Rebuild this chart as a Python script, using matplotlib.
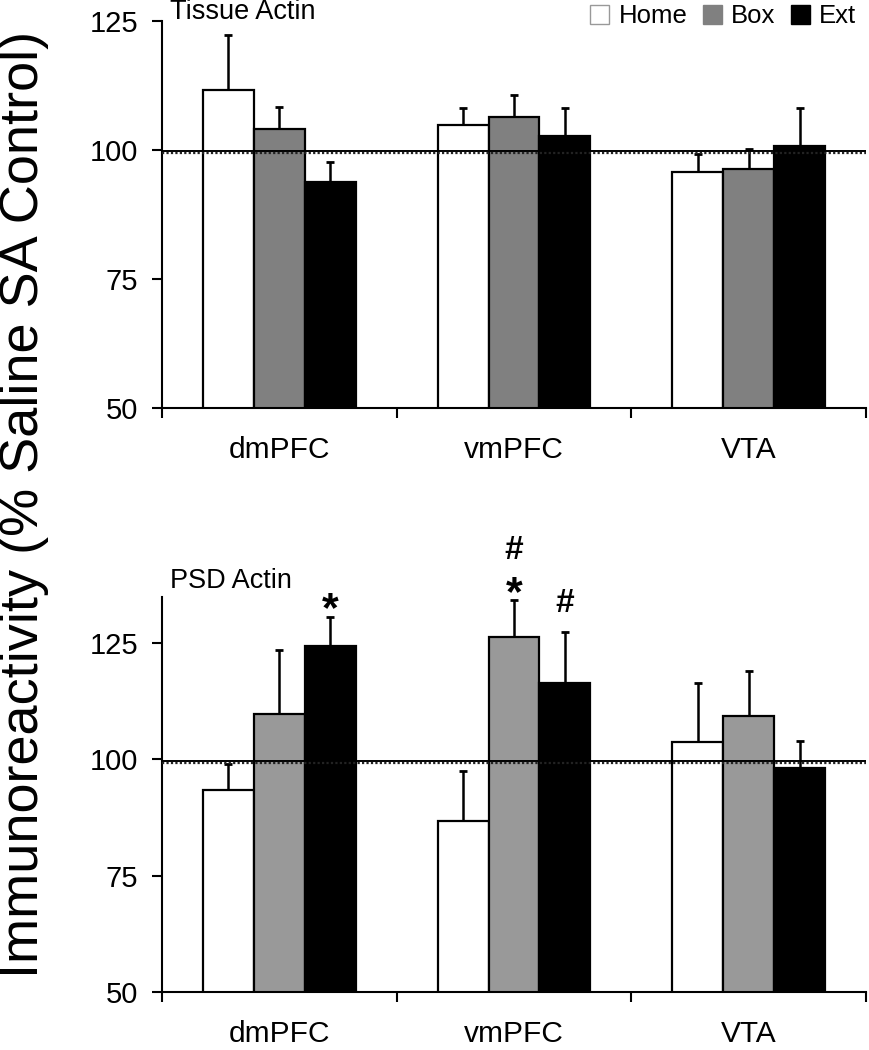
import matplotlib.pyplot as plt
import matplotlib.patches as mpatches
import numpy as np

plt.rcParams['font.family'] = ['Liberation Sans', 'DejaVu Sans']

regions = ['dmPFC', 'vmPFC', 'VTA']
groups = ['Home', 'Box', 'Ext']

# Tissue Actin (top panel)
tissue_mean = {'Home': [111.6, 104.8, 95.6],
               'Box': [104.0, 106.4, 96.3],
               'Ext': [93.8, 102.7, 100.7]}
tissue_err = {'Home': [10.6, 3.3, 3.6],
              'Box': [4.2, 4.2, 3.9],
              'Ext': [3.8, 5.3, 7.4]}

# PSD Actin (bottom panel)
psd_mean = {'Home': [93.4, 86.8, 103.7],
            'Box': [109.8, 126.2, 109.4],
            'Ext': [124.4, 116.4, 98.1]}
psd_err = {'Home': [5.7, 10.6, 12.8],
           'Box': [13.7, 8.1, 9.5],
           'Ext': [6.2, 11.0, 5.9]}

# significance marks: (region index, group, label)
psd_marks = [(0, 'Ext', '*'), (1, 'Box', '*'), (1, 'Box', '#'), (1, 'Ext', '#')]
# vertical offset of each mark above the error bar, in points
mark_offsets = [-3, -4, 29, 14]

W, H = 869, 1050
fig = plt.figure(figsize=(W / 100, H / 100), dpi=100)
ax1 = fig.add_axes([162 / W, 1 - 408 / H, 704 / W, (408 - 20.5) / H])
ax2 = fig.add_axes([162 / W, 1 - 992 / H, 704 / W, (992 - 596.5) / H])

bw = 0.217
offsets = {'Home': -bw, 'Box': 0.0, 'Ext': bw}


def draw(ax, means, errs, box_color, ylim, title, title_dy):
    colors = {'Home': 'white', 'Box': box_color, 'Ext': 'black'}
    x = np.arange(len(regions)) + 0.5
    for g in groups:
        xs = x + offsets[g]
        ax.bar(xs, means[g], bw, bottom=0, color=colors[g], edgecolor='black',
               linewidth=1.6, zorder=2)
        ax.errorbar(xs, means[g], yerr=[np.zeros(3), errs[g]], fmt='none',
                    ecolor='black', elinewidth=1.8, capsize=3, capthick=2, zorder=1)
    ax.axhline(99.75, color='black', lw=1.4, zorder=3)
    ax.axhline(99.3, color='#222222', lw=1.6, ls=(0, (1, 1)), zorder=3)
    ax.set_xlim(0, 3)
    ax.set_ylim(*ylim)
    ax.set_yticks([50, 75, 100, 125])
    ax.set_xticks([0, 1, 2, 3])
    ax.set_xticklabels([])
    ax.set_xticks(x, minor=True)
    ax.set_xticklabels(regions, minor=True)
    ax.tick_params(axis='x', which='minor', length=0, labelsize=21.5, pad=20)
    ax.tick_params(axis='x', which='major', direction='out', length=7, width=1.5)
    ax.tick_params(axis='y', direction='out', length=7, width=1.5, labelsize=21, pad=10)
    for s in ['top', 'right']:
        ax.spines[s].set_visible(False)
    for s in ['left', 'bottom']:
        ax.spines[s].set_linewidth(1.5)
    ax.annotate(title, (0, 1), xycoords='axes fraction', xytext=(6, title_dy),
                textcoords='offset points', fontsize=19.5, ha='left', va='baseline')


draw(ax1, tissue_mean, tissue_err, '#808080', (50, 125), 'Tissue Actin', 1)
draw(ax2, psd_mean, psd_err, '#999999', (50, 135), 'PSD Actin', 6)

for (ri, g, lab), dy in zip(psd_marks, mark_offsets):
    xs = ri + 0.5 + offsets[g]
    top = psd_mean[g][ri] + psd_err[g][ri]
    ax2.annotate(lab, (xs, top), xytext=(0, dy), textcoords='offset points',
                 ha='center', va='baseline', fontsize=31 if lab == '*' else 24,
                 fontweight='bold', annotation_clip=False)

fig.text(0.028, 0.52, 'Immunoreactivity (% Saline SA Control)', rotation=90,
         fontsize=39, ha='center', va='center')

handles = [mpatches.Patch(facecolor='white', edgecolor='#999999', label='Home'),
           mpatches.Patch(facecolor='#808080', edgecolor='#808080', label='Box'),
           mpatches.Patch(facecolor='black', edgecolor='black', label='Ext')]
fig.legend(handles=handles, loc='upper right', bbox_to_anchor=(1.0, 1.008), ncol=3,
           frameon=False, fontsize=18.5, handlelength=0.75, handleheight=0.75,
           handletextpad=0.35, columnspacing=0.6, borderaxespad=0.1)

fig.savefig('out.png', dpi=100)
